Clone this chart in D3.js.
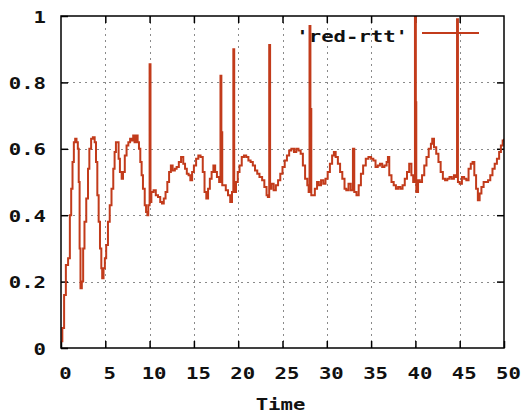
<!DOCTYPE html>
<html>
<head>
<meta charset="utf-8">
<script src="https://cdn.jsdelivr.net/npm/d3@7"></script>
<style>
html,body{margin:0;padding:0;background:#fff;}
svg{display:block;}
</style>
</head>
<body>
<svg id="chart" width="525" height="414"></svg>
<script>
// ---- data ----
const times = [0.0,0.15,0.35,0.55,0.8,1.0,1.15,1.3,1.45,1.6,1.75,1.9,2.0,2.1,2.2,2.35,2.5,2.65,2.85,3.05,3.2,3.4,3.6,3.8,3.95,4.1,4.25,4.4,4.55,4.65,4.8,4.95,5.1,5.3,5.5,5.7,5.9,6.05,6.2,6.35,6.5,6.65,6.85,7.0,7.2,7.4,7.6,7.8,8.0,8.15,8.3,8.5,8.65,8.8,8.95,9.1,9.25,9.45,9.6,9.75,9.85,10.0,10.1,10.2,10.45,10.7,10.95,11.2,11.4,11.6,11.8,12.0,12.2,12.4,12.6,12.85,13.05,13.3,13.55,13.8,14.0,14.2,14.4,14.6,14.8,15.0,15.25,15.5,15.75,16.0,16.2,16.4,16.6,16.8,17.0,17.2,17.4,17.6,17.85,18.0,18.1,18.2,18.4,18.6,18.85,19.1,19.3,19.45,19.55,19.75,19.95,20.15,20.4,20.65,20.9,21.15,21.4,21.65,21.9,22.15,22.4,22.7,22.95,23.2,23.35,23.5,23.6,23.75,24.0,24.25,24.5,24.75,25.0,25.25,25.5,25.75,26.0,26.3,26.55,26.8,27.05,27.3,27.55,27.8,27.95,28.05,28.15,28.25,28.45,28.65,28.9,29.1,29.35,29.6,29.85,30.1,30.35,30.6,30.8,31.0,31.25,31.5,31.75,32.0,32.2,32.45,32.7,32.95,33.1,33.35,33.6,33.85,34.1,34.4,34.7,35.0,35.25,35.5,35.75,36.0,36.25,36.5,36.75,36.9,37.05,37.3,37.55,37.8,38.05,38.3,38.55,38.8,39.05,39.3,39.55,39.75,39.95,40.05,40.1,40.3,40.5,40.75,41.0,41.25,41.5,41.75,41.9,42.1,42.35,42.6,42.85,43.1,43.35,43.6,43.85,44.1,44.35,44.55,44.7,44.8,45.0,45.25,45.5,45.75,46.0,46.25,46.45,46.65,46.85,47.05,47.25,47.45,47.7,47.95,48.2,48.45,48.7,48.95,49.2,49.45,49.65,49.85,50.0];
const rtt = [0.02,0.06,0.16,0.25,0.27,0.40,0.48,0.56,0.62,0.63,0.62,0.60,0.50,0.30,0.18,0.20,0.30,0.38,0.45,0.54,0.60,0.63,0.635,0.62,0.56,0.46,0.38,0.30,0.24,0.21,0.24,0.27,0.31,0.38,0.43,0.48,0.54,0.59,0.62,0.62,0.57,0.53,0.51,0.53,0.58,0.61,0.62,0.63,0.625,0.64,0.62,0.64,0.62,0.60,0.56,0.52,0.48,0.43,0.41,0.40,0.43,0.855,0.44,0.47,0.475,0.46,0.455,0.44,0.435,0.45,0.47,0.50,0.53,0.55,0.535,0.54,0.545,0.56,0.575,0.555,0.54,0.525,0.52,0.505,0.53,0.55,0.57,0.58,0.575,0.53,0.47,0.45,0.48,0.51,0.53,0.55,0.53,0.515,0.50,0.82,0.65,0.49,0.49,0.475,0.46,0.44,0.47,0.90,0.47,0.50,0.53,0.55,0.575,0.58,0.575,0.565,0.56,0.55,0.535,0.525,0.515,0.505,0.485,0.46,0.455,0.913,0.48,0.495,0.475,0.49,0.505,0.525,0.545,0.565,0.58,0.595,0.60,0.59,0.60,0.595,0.585,0.55,0.51,0.49,0.47,0.97,0.72,0.46,0.46,0.48,0.50,0.49,0.505,0.495,0.51,0.53,0.555,0.58,0.59,0.575,0.555,0.53,0.51,0.48,0.475,0.495,0.475,0.60,0.47,0.46,0.49,0.525,0.55,0.57,0.575,0.57,0.565,0.545,0.55,0.555,0.545,0.55,0.56,0.575,0.52,0.50,0.49,0.48,0.485,0.48,0.49,0.51,0.53,0.555,0.52,0.50,1.0,0.74,0.47,0.505,0.50,0.52,0.55,0.575,0.60,0.615,0.63,0.605,0.585,0.56,0.53,0.51,0.505,0.51,0.515,0.51,0.52,0.515,0.99,0.50,0.495,0.515,0.51,0.505,0.54,0.555,0.56,0.52,0.48,0.445,0.465,0.485,0.50,0.50,0.505,0.52,0.54,0.555,0.57,0.59,0.61,0.625,0.63];
const xTicks = [0,5,10,15,20,25,30,35,40,45,50];
const xTickLabels = ["0","5","10","15","20","25","30","35","40","45","50"];
const yTicks = [0,0.2,0.4,0.6,0.8,1];
const yTickLabels = ["0","0.2","0.4","0.6","0.8","1"];
const seriesName = "'red-rtt'";
const xTitle = "Time";

// ---- layout ----
const svg = d3.select("#chart");
const L = 61, R = 504, T = 16, B = 348;
const x = d3.scaleLinear().domain([0,50]).range([L,R]);
const y = d3.scaleLinear().domain([0,1]).range([B,T]);
const FONT = "'DejaVu Sans Mono', 'Liberation Mono', monospace";
const FS = 16.5;
const lineColor = "#c23b1b";

svg.append("rect").attr("width",525).attr("height",414).attr("fill","#fff");

// grid
const grid = svg.append("g").attr("stroke","#8a8a8a").attr("stroke-width",1).attr("stroke-dasharray","2,4");
grid.selectAll("line.gx").data(xTicks.filter(d=>d>0&&d<50)).join("line")
  .attr("x1",d=>Math.round(x(d))+0.5).attr("x2",d=>Math.round(x(d))+0.5)
  .attr("y1",T).attr("y2",B);
grid.selectAll("line.gy").data(yTicks.filter(d=>d>0&&d<1)).join("line")
  .attr("y1",d=>Math.round(y(d))+0.5).attr("y2",d=>Math.round(y(d))+0.5)
  .attr("x1",L).attr("x2",R);

// axes (inward ticks, mirrored)
function styleAxis(g){
  g.select(".domain").remove();
  g.selectAll(".tick line").attr("stroke","#000").attr("stroke-width",1.5);
}
const xb = svg.append("g").attr("transform",`translate(0,${B})`)
  .call(d3.axisBottom(x).tickValues(xTicks).tickFormat((d,i)=>xTickLabels[i]).tickSizeInner(-7).tickSizeOuter(0).tickPadding(0));
styleAxis(xb);
xb.selectAll(".tick text").attr("y",0).attr("dy",null)
  .attr("transform","translate(4,31) scale(1.25,1)")
  .style("font-family",FONT).style("font-weight","bold").style("font-size",FS+"px").attr("fill","#111");

const xt = svg.append("g").attr("transform",`translate(0,${T})`)
  .call(d3.axisTop(x).tickValues(xTicks.filter(d=>d>0&&d<50)).tickFormat("").tickSizeInner(-7).tickSizeOuter(0));
styleAxis(xt);

const yl = svg.append("g").attr("transform",`translate(${L},0)`)
  .call(d3.axisLeft(y).tickValues(yTicks).tickFormat((d,i)=>yTickLabels[i]).tickSizeInner(-7).tickSizeOuter(0).tickPadding(0));
styleAxis(yl);
yl.selectAll(".tick text").attr("x",0).attr("dy",null).attr("y",0)
  .attr("transform","translate(-15,6) scale(1.25,1)")
  .style("font-family",FONT).style("font-weight","bold").style("font-size",FS+"px").attr("fill","#111");

const yr = svg.append("g").attr("transform",`translate(${R},0)`)
  .call(d3.axisRight(y).tickValues(yTicks.filter(d=>d>0&&d<1)).tickFormat("").tickSizeInner(-7).tickSizeOuter(0));
styleAxis(yr);

// data line
svg.append("clipPath").attr("id","pc").append("rect")
  .attr("x",L).attr("y",T).attr("width",R-L).attr("height",B-T);
const pts = times.map((t,i)=>[t,rtt[i]]);
svg.append("path").datum(pts)
  .attr("clip-path","url(#pc)")
  .attr("fill","none").attr("stroke",lineColor).attr("stroke-width",2)
  .attr("stroke-linejoin","miter")
  .attr("d", d3.line().x(d=>x(d[0])).y(d=>y(d[1])).curve(d3.curveStepAfter));

// border
svg.append("rect").attr("x",L).attr("y",T).attr("width",R-L).attr("height",B-T)
  .attr("fill","none").attr("stroke","#000").attr("stroke-width",1.5);

// legend
svg.append("text").text(seriesName)
  .attr("text-anchor","end")
  .attr("transform","translate(408,42) scale(1.25,1)")
  .style("font-family",FONT).style("font-weight","bold").style("font-size",FS+"px").attr("fill","#111");
svg.append("line").attr("x1",422).attr("x2",479).attr("y1",33).attr("y2",33)
  .attr("stroke",lineColor).attr("stroke-width",2);

// x title
svg.append("text").text(xTitle)
  .attr("text-anchor","middle")
  .attr("transform",`translate(${(L+R)/2-2},410) scale(1.25,1)`)
  .style("font-family",FONT).style("font-weight","bold").style("font-size",FS+"px").attr("fill","#111");
</script>
</body>
</html>
